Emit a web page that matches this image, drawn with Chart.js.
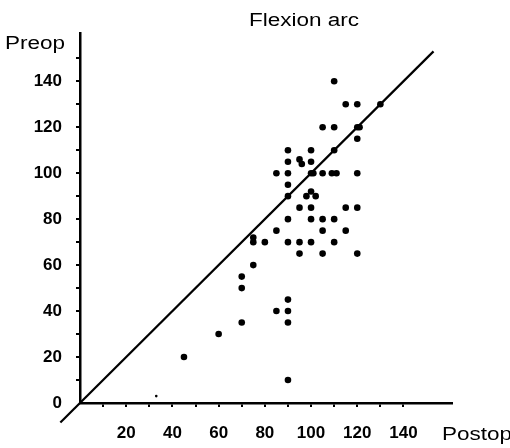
<!DOCTYPE html>
<html>
<head>
<meta charset="utf-8">
<script src="https://cdn.jsdelivr.net/npm/chart.js@4"></script>
<style>
  html, body { margin: 0; padding: 0; background: #fff; }
  #wrap { width: 510px; height: 448px; }
</style>
</head>
<body>
<div id="wrap"><canvas id="flexChart"></canvas></div>
<script>
// Flexion arc, postop (x) vs preop (y), degrees
const postop = [110, 115, 120, 130, 105, 110, 120, 121, 120, 90, 100, 110,
  90, 95, 96, 100, 85, 90, 100, 101, 105, 109, 111, 120, 90, 90, 98, 100, 102,
  95, 100, 115, 120, 90, 100, 105, 110, 85, 105, 115, 75, 75, 80, 90, 95, 100, 110,
  95, 105, 120, 75, 70, 70, 90, 85, 90, 70, 90, 60, 45, 90, 33];
const preop = [140, 130, 130, 130, 120, 120, 120, 120, 115, 110, 110, 110,
  105, 106, 104, 105, 100, 100, 100, 100, 100, 100, 100, 100, 95, 90, 90, 92, 90,
  85, 85, 85, 85, 80, 80, 80, 80, 75, 75, 75, 72, 70, 70, 70, 70, 70, 70,
  65, 65, 65, 60, 55, 50, 45, 40, 40, 35, 35, 30, 20, 10, 3];

// line of equality
const refLine = [-8.5, 153];

const xTickLabels = [20, 40, 60, 80, 100, 120, 140];
const yTickLabels = [0, 20, 40, 60, 80, 100, 120, 140];

const points = postop.map((x, i) => ({ x: x, y: preop[i] }));
const radii = postop.map((x, i) => (preop[i] < 5 ? 1.3 : 3.3));

function drawWide(ctx, text, x, y, align) {
  ctx.save();
  ctx.translate(x, y);
  ctx.scale(1.25, 1);
  ctx.textAlign = align;
  ctx.fillText(text, 0, 0);
  ctx.restore();
}

const textPlugin = {
  id: 'textPlugin',
  afterDraw(chart) {
    const ctx = chart.ctx;
    ctx.save();
    ctx.fillStyle = '#000';
    ctx.font = '18px "Liberation Sans", Arial, sans-serif';
    ctx.textBaseline = 'alphabetic';
    drawWide(ctx, 'Flexion arc', 304, 26, 'center');
    drawWide(ctx, 'Preop', 5, 49, 'left');
    drawWide(ctx, 'Postop', 442, 440, 'left');
    ctx.restore();
  }
};

const tickFont = { family: '"Liberation Sans", Arial, sans-serif', size: 17, weight: 'bold' };

new Chart(document.getElementById('flexChart'), {
  type: 'scatter',
  data: {
    datasets: [
      {
        data: points,
        pointRadius: radii,
        pointBackgroundColor: '#000',
        pointBorderWidth: 0,
        showLine: false
      },
      {
        data: refLine.map(v => ({ x: v, y: v })),
        showLine: true,
        borderColor: '#000',
        borderWidth: 2.2,
        pointRadius: 0,
        clip: false
      }
    ]
  },
  options: {
    responsive: true,
    maintainAspectRatio: false,
    animation: false,
    layout: { padding: { top: 33, right: 58, left: 0, bottom: 0 } },
    plugins: {
      legend: { display: false },
      tooltip: { enabled: false }
    },
    scales: {
      x: {
        type: 'linear',
        min: 0,
        max: 161,
        afterFit(scale) { scale.height = 45; },
        border: { display: true, color: '#000', width: 2.5 },
        grid: {
          drawOnChartArea: false,
          drawTicks: true,
          tickLength: 4,
          lineWidth: 2,
          color: c => (c.tick && c.tick.value > 0 && c.tick.value <= 140 ? '#000' : 'rgba(0,0,0,0)')
        },
        ticks: {
          stepSize: 10,
          includeBounds: false,
          autoSkip: false,
          maxRotation: 0,
          padding: 16,
          color: '#000',
          font: tickFont,
          callback: v => (xTickLabels.includes(v) ? String(v) : '')
        }
      },
      y: {
        type: 'linear',
        min: 0,
        max: 161,
        afterFit(scale) { scale.width = 80; },
        border: { display: true, color: '#000', width: 2.5 },
        grid: {
          drawOnChartArea: false,
          drawTicks: true,
          tickLength: 4,
          lineWidth: 2,
          color: c => (c.tick && c.tick.value > 0 && c.tick.value <= 150 ? '#000' : 'rgba(0,0,0,0)')
        },
        ticks: {
          stepSize: 10,
          includeBounds: false,
          autoSkip: false,
          padding: 14,
          color: '#000',
          font: tickFont,
          callback: v => (yTickLabels.includes(v) ? String(v) : '')
        }
      }
    }
  },
  plugins: [textPlugin]
});
</script>
</body>
</html>
